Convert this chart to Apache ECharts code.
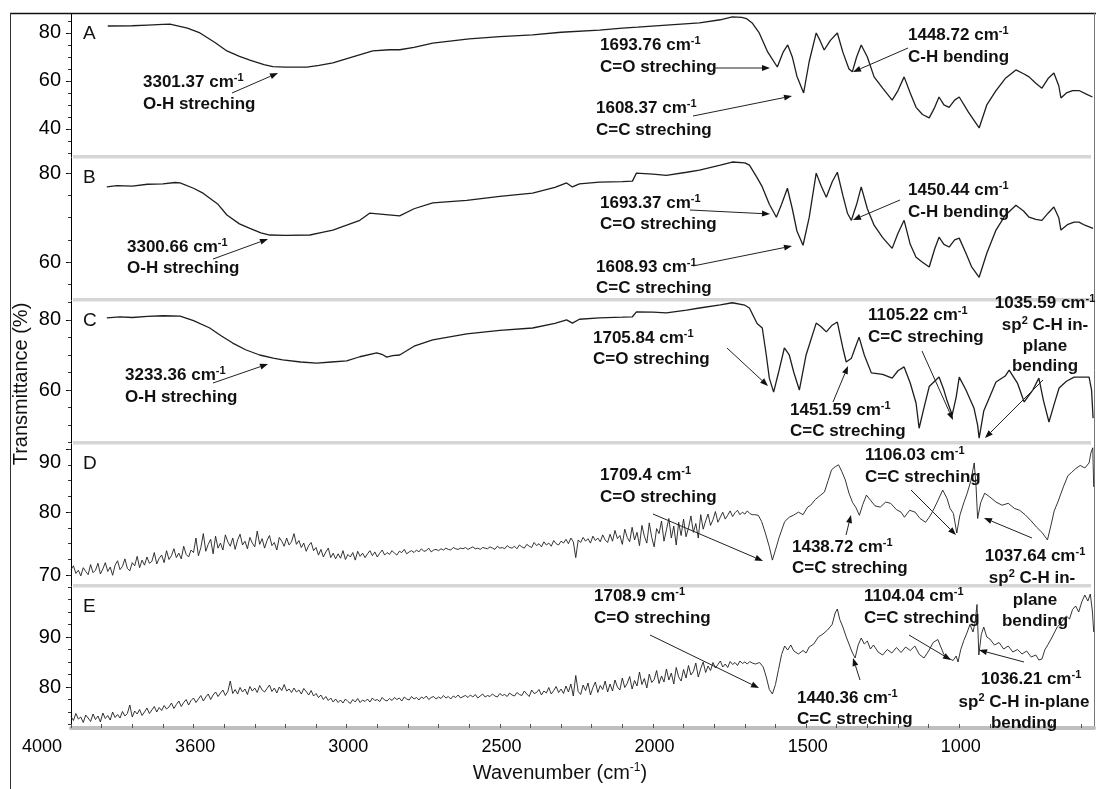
<!DOCTYPE html>
<html><head><meta charset="utf-8">
<script src="https://cdn.jsdelivr.net/npm/echarts@6/dist/echarts.min.js"></script>
<style>html,body{margin:0;padding:0;background:#fff}#c{width:1096px;height:789px}</style>
</head><body><div id="c"></div>
<script>
// ---------- data ----------
const panelLabels = ['A', 'B', 'C', 'D', 'E'];
const xTickValues = [4000, 3500, 3000, 2500, 2000, 1500, 1000];
const xTickLabels = ['4000', '3600', '3000', '2500', '2000', '1500', '1000'];
const yTicksA = [40, 60, 80];
const yTicksB = [60, 80];
const yTicksC = [60, 80];
const yTicksD = [70, 80, 90];
const yTicksE = [80, 90];

const specA = [[3880,82.9],[3800,83.0],[3750,83.3],[3700,83.6],[3677,83.7],[3620,82],[3579,80],[3530,76],[3491,72.5],[3450,70.2],[3416,68.7],[3370,66.8],[3341,66],[3301,65.8],[3230,65.8],[3190,66.5],[3145,67.5],[3080,70],[3015,72.5],[2960,73],[2927,73],[2880,74],[2819,75.8],[2700,77.5],[2600,78.5],[2493,79.2],[2400,80.3],[2275,81.2],[2200,82],[2150,82.4],[2056,83.3],[1948,84.2],[1880,85.5],[1841,86.7],[1810,86.5],[1795,86],[1775,84],[1753,80],[1725,72],[1694,65.8],[1675,72],[1660,75],[1645,70],[1630,62],[1608,55],[1590,68],[1567,80],[1555,77],[1541,72.9],[1520,77],[1498,80],[1480,72],[1460,65],[1449,63.8],[1435,70],[1420,75],[1400,70],[1378,61.7],[1350,57],[1319,52],[1300,56],[1280,61.7],[1260,55],[1241,49],[1220,46],[1198,44.6],[1180,49],[1166,53.3],[1150,50],[1133,49],[1115,52],[1100,53.3],[1070,47],[1035,40.4],[1010,50],[980,56],[950,61],[915,64.6],[890,63],[872,61.7],[850,59],[830,57],[810,61],[791,63.3],[775,58],[768,52.9],[750,55],[730,56],[709,56],[685,54.5],[665,53.3]];

const specB = [[3883,76.9],[3850,77.2],[3800,77.1],[3750,77.5],[3700,77.6],[3660,77.9],[3644,77.8],[3600,76.6],[3569,75.5],[3520,73],[3491,70.6],[3450,68.6],[3416,67.6],[3380,66.6],[3351,66.1],[3300,66.0],[3220,66.1],[3180,66.7],[3145,67.2],[3100,68.3],[3057,69.4],[3025,71],[2990,70.8],[2927,70.4],[2880,72],[2819,73.3],[2708,73.9],[2600,74.8],[2493,75.5],[2420,76.8],[2382,77.8],[2363,76.9],[2340,77.6],[2275,78],[2200,78.1],[2167,78.2],[2154,80],[2100,79.8],[2056,79.5],[1990,80.2],[1948,80.7],[1880,81.8],[1841,82.5],[1800,82.3],[1785,81.8],[1760,79],[1743,76.9],[1720,73],[1697,70.1],[1680,73],[1661,76.6],[1645,72],[1630,67],[1610,63.8],[1590,70],[1567,80],[1550,77],[1534,74.6],[1515,78],[1498,80.2],[1480,75],[1465,71],[1452,69.4],[1435,73],[1420,76.9],[1400,72],[1378,68.3],[1350,65.5],[1319,63.1],[1300,66.5],[1280,69.4],[1260,64],[1241,61.1],[1220,60],[1198,58.9],[1180,63],[1166,65.6],[1150,64],[1133,63.4],[1115,65],[1100,65.4],[1078,62],[1060,59],[1035,56.6],[1010,62],[980,67.2],[950,70.5],[915,72.8],[890,71.5],[872,70.1],[850,69.6],[830,69.4],[810,71],[791,72.4],[775,70],[768,67.2],[745,68.5],[725,69],[709,69],[690,68.3],[663,67.6]];

const specC = [[3883,80.6],[3840,80.9],[3800,80.7],[3750,81.0],[3700,81.2],[3644,81.1],[3600,79.8],[3547,77.7],[3510,75.5],[3472,73.4],[3430,71.5],[3384,70],[3340,69.1],[3309,68.6],[3250,68.0],[3198,67.7],[3150,68.0],[3100,68.3],[3057,69.5],[3002,70.6],[2985,70.2],[2969,69.4],[2950,69.8],[2927,70],[2880,72.5],[2819,74.3],[2708,76],[2600,77],[2493,77.7],[2420,79],[2382,80],[2363,79.1],[2340,80.2],[2275,80.6],[2200,80.8],[2167,80.9],[2154,82.3],[2100,82.2],[2056,82],[1990,82.8],[1948,83.4],[1880,84.3],[1841,84.9],[1800,84.2],[1785,83.4],[1760,79],[1743,77.7],[1730,70],[1720,63.4],[1706,59.4],[1690,65],[1671,72],[1655,70],[1640,65],[1622,60],[1600,70],[1567,79.1],[1550,78],[1534,76.6],[1515,78.5],[1498,79.4],[1480,72],[1469,68],[1452,69.1],[1440,72],[1427,75.1],[1410,70],[1387,64.9],[1350,64.5],[1319,63.4],[1300,65.5],[1280,66.6],[1260,62],[1241,56.3],[1231,49.1],[1215,55],[1198,61],[1166,63.7],[1150,60],[1140,57],[1123,52.9],[1110,58],[1100,63.7],[1078,60],[1052,54.9],[1040,50],[1035,46.3],[1020,54],[980,62.3],[950,64],[937,65.7],[910,62],[888,56.6],[860,60],[840,63.4],[825,57],[807,50.9],[790,56],[774,60.6],[750,62.5],[725,63.7],[700,63.7],[676,63.7],[668,60],[663,52]];

// noisy high-wavenumber parts of D and E: one reading every 8 cm-1 from 4000 down to 1776
const noiseStart = 4000, noiseStep = 8;
const noiseD = [
70.9,71.5,70.3,70.8,69.9,71.2,70.6,70.1,71.7,70.4,
70.8,71.9,70.2,71.0,72.0,70.6,71.3,70.0,71.6,72.3,
70.9,71.4,72.6,71.1,70.7,72.0,71.5,73.0,71.2,72.4,
71.6,72.9,71.9,72.2,73.6,71.8,72.7,73.2,72.0,73.9,
72.5,73.1,74.2,72.8,73.5,72.6,74.6,73.3,72.9,74.0,
73.6,75.9,73.1,74.4,76.6,73.8,74.9,75.7,73.4,76.2,
74.3,75.1,74.0,76.4,75.3,74.6,75.9,74.1,75.6,76.5,
74.8,75.4,74.2,76.0,75.1,74.5,77.0,74.9,75.8,74.3,
75.5,76.3,74.7,75.2,74.0,76.0,75.4,74.6,75.9,74.8,
75.3,76.6,74.9,75.5,74.4,75.1,73.8,74.7,75.2,73.9,
74.4,73.2,74.1,72.9,73.7,74.3,72.8,73.5,72.6,73.4,
72.7,73.9,72.5,73.3,72.9,73.6,72.4,73.8,73.0,73.5,
72.8,73.4,73.9,73.1,73.7,72.9,73.5,74.0,73.2,73.6,
73.3,73.9,73.5,73.2,73.8,73.6,74.1,73.4,73.7,73.9,
73.6,74.0,73.7,74.2,73.8,73.9,74.3,73.7,74.0,74.1,
73.9,74.2,74.0,74.3,74.1,74.0,74.4,74.2,74.1,74.3,
74.2,74.4,74.1,74.3,74.5,74.2,74.3,74.1,74.4,74.3,
74.2,74.5,74.3,74.1,74.6,74.3,74.4,74.2,74.7,74.4,
74.3,74.6,74.2,74.8,74.5,74.3,74.9,74.6,74.4,75.2,
74.7,75.0,74.5,75.3,74.8,75.1,74.6,75.5,75.0,74.8,
75.4,75.1,75.7,75.0,75.9,75.3,72.8,75.6,75.2,76.0,
75.4,75.8,75.1,76.2,75.5,75.9,75.3,76.4,75.6,75.2,
76.5,75.4,77.1,75.8,76.3,74.9,77.3,76.0,75.3,77.6,
75.6,76.8,74.7,77.9,76.2,75.1,78.3,76.0,74.5,77.4,
76.6,78.6,75.4,77.2,79.0,75.9,77.8,74.8,78.4,76.3,
78.9,76.1,77.5,79.4,76.8,78.2,75.9,79.6,77.3,78.6,
79.7,77.9,78.8,80.1,78.4,79.2,80.0,78.9,79.5,80.2,
79.3,79.9,80.3,79.6,80.0,79.7,80.2,79.8,79.6];
const noiseE = [
74.1,73.3,74.7,73.6,74.0,72.9,74.4,73.8,73.1,74.6,
73.5,74.2,73.0,74.8,73.7,74.3,73.4,75.0,73.9,74.5,
73.8,75.1,74.2,74.7,76.4,74.0,75.2,74.6,75.5,74.3,
75.0,75.8,74.7,75.4,76.1,75.0,75.9,75.3,76.3,75.6,
76.0,76.8,75.7,76.5,77.2,76.1,76.9,77.5,76.4,77.3,
77.8,76.9,77.6,78.3,77.2,78.0,78.6,77.5,78.4,79.0,
78.1,78.8,79.4,78.3,79.1,81.2,78.7,79.5,78.6,79.9,
79.0,79.6,78.5,80.1,79.2,79.8,78.9,80.3,79.4,79.0,
79.7,80.4,79.1,79.8,78.8,80.0,79.3,80.5,79.2,79.6,
78.9,79.8,79.0,79.4,78.6,79.7,79.1,78.4,79.3,78.2,
78.7,77.9,78.4,77.5,78.1,77.3,77.8,77.0,77.6,76.9,
77.4,76.8,77.6,77.1,76.7,77.5,77.0,77.7,76.9,77.4,
77.1,77.6,77.0,77.8,77.3,77.5,77.1,77.9,77.4,77.2,
77.7,77.3,77.9,77.5,77.8,77.2,78.0,77.6,77.4,78.1,
77.6,77.9,77.4,78.0,77.7,78.2,77.5,77.9,78.1,77.6,
78.0,77.7,78.3,77.8,78.1,77.6,78.2,77.9,78.4,77.8,
78.1,78.3,77.9,78.4,78.0,78.5,77.8,78.2,78.6,78.0,
78.3,78.1,78.6,78.2,78.0,78.7,78.3,78.5,78.1,78.8,
78.4,78.2,78.9,78.5,78.3,79.2,78.6,78.1,79.4,78.7,
78.9,79.5,78.4,79.2,78.8,79.9,78.6,79.3,80.1,78.9,
79.6,78.7,80.2,79.0,80.6,78.2,82.3,79.1,78.5,80.4,
79.3,80.8,78.4,79.9,81.0,78.9,80.3,79.5,81.2,79.0,
80.6,79.2,81.4,80.0,79.4,81.8,79.9,80.7,82.1,79.6,
81.3,80.2,83.0,80.5,81.7,79.8,82.6,80.9,81.5,83.3,
80.7,82.2,81.0,83.6,81.4,82.8,80.6,83.9,82.0,81.2,
83.5,81.8,84.3,82.4,83.1,84.8,82.0,83.7,85.0,82.9,
84.2,83.3,84.9,83.8,84.5,85.2,84.0,84.6,83.9,85.1,
84.5,84.9,84.3,85.2,84.7,85.0,84.6,85.1,84.8];

const tailD = [[1768,79.6],[1756,79.5],[1745,78.5],[1733,76.7],[1720,74.5],[1710,72.4],[1700,74.0],[1688,76.0],[1670,78.5],[1655,79.2],[1642,79.5],[1625,80.0],[1610,79.6],[1595,80.8],[1585,81.1],[1570,82.0],[1555,82.6],[1540,83.2],[1528,85.0],[1517,86.7],[1505,87.2],[1494,87.5],[1483,86.4],[1472,85.1],[1460,83.0],[1448,81.5],[1438,80.8],[1426,79.5],[1415,81.2],[1403,82.7],[1390,81.9],[1375,81.0],[1358,80.8],[1340,81.6],[1324,81.4],[1305,80.4],[1290,80.0],[1279,79.2],[1262,80.3],[1244,80.0],[1228,79.0],[1210,78.4],[1198,79.2],[1188,80.0],[1170,81.8],[1154,83.5],[1140,82.2],[1130,80.6],[1119,79.8],[1108,76.7],[1098,79.5],[1085,81.5],[1074,83.0],[1062,85.0],[1051,87.8],[1045,84.0],[1040,79.0],[1030,81.5],[1017,83.0],[1000,82.4],[980,81.6],[960,81.1],[940,81.4],[920,80.6],[903,80.3],[885,79.6],[865,78.6],[847,77.6],[830,76.8],[812,75.6],[800,78.0],[790,80.2],[778,81.6],[760,84.0],[745,85.8],[733,86.3],[720,86.9],[705,87.4],[690,87.0],[676,87.8],[670,89.4],[664,90.2],[661,84.0]];

const tailE = [[1765,84.6],[1752,84.9],[1740,84.0],[1730,82.0],[1720,79.5],[1710,78.6],[1700,80.5],[1690,83.5],[1680,86.5],[1670,88.2],[1660,87.4],[1650,88.4],[1640,87.2],[1625,86.6],[1610,87.3],[1600,86.8],[1590,88.0],[1575,88.6],[1560,90.0],[1545,90.6],[1530,91.4],[1515,92.5],[1505,94.8],[1498,95.6],[1490,93.5],[1480,92.0],[1470,90.2],[1460,88.6],[1450,87.0],[1440,85.8],[1430,88.4],[1420,89.8],[1410,88.6],[1400,89.2],[1390,87.6],[1380,88.4],[1365,87.0],[1350,86.4],[1335,87.5],[1320,86.8],[1305,87.9],[1290,86.9],[1275,88.0],[1260,87.3],[1245,88.2],[1230,86.5],[1215,85.8],[1200,87.2],[1185,88.9],[1170,89.5],[1160,88.0],[1150,86.5],[1140,86.0],[1130,85.6],[1120,85.3],[1110,86.2],[1104,85.0],[1095,87.5],[1085,89.3],[1075,90.8],[1065,92.5],[1055,91.0],[1048,93.0],[1042,96.5],[1036,86.4],[1028,90.5],[1020,92.0],[1010,90.0],[1000,89.6],[985,88.4],[970,88.9],[955,87.6],[940,88.2],[925,87.0],[910,87.5],[895,86.6],[880,87.2],[865,86.0],[850,86.4],[840,85.4],[830,85.6],[820,87.5],[810,88.5],[800,89.6],[790,90.8],[780,92.0],[770,92.6],[760,93.5],[750,94.2],[740,93.6],[730,95.5],[720,96.2],[710,95.0],[700,97.0],[690,98.4],[680,97.2],[672,98.6],[665,95.0],[661,91.0]];

const specD = noiseD.map((t, k) => [noiseStart - k * noiseStep, t]).concat(tailD);
const specE = noiseE.map((t, k) => [noiseStart - k * noiseStep, t]).concat(tailE);

// ---------- layout ----------
const FONT = '"Liberation Sans", Arial, sans-serif';
const X_MIN = 660, X_MAX = 4000;
const panels = [
  { data: specA, top: 14,  bottom: 157, min: 28.3, max: 87.9, major: yTicksA, minorStep: 5 },
  { data: specB, top: 158, bottom: 300, min: 51.5, max: 83.4, major: yTicksB, minorStep: 5 },
  { data: specC, top: 301, bottom: 443, min: 44.9, max: 85.4, major: yTicksC, minorStep: 5 },
  { data: specD, top: 444, bottom: 586, min: 68.3, max: 90.8, major: yTicksD, minorStep: 2.5, dropTop: true },
  { data: specE, top: 587, bottom: 728, min: 71.8, max: 100,  major: yTicksE, minorStep: 2.5 }
];

function minorTicks(min, max, step) {
  const out = [];
  for (let v = Math.ceil(min / step) * step; v <= max; v += step) out.push(+v.toFixed(3));
  return out;
}

const grids = [], xAxes = [], yAxes = [], series = [];
panels.forEach((p, i) => {
  grids.push({ left: 71, right: 2, top: p.top, height: p.bottom - p.top });
  const last = i === panels.length - 1;
  xAxes.push({
    gridIndex: i, type: 'value', inverse: true, min: X_MIN, max: X_MAX,
    show: last,
    axisLine: { show: last, onZero: false, lineStyle: { color: '#bfbfbf', width: 4 } },
    axisTick: { show: last, customValues: minorTicks(X_MIN, X_MAX, 100), length: 4, inside: true, lineStyle: { color: '#555', width: 1 } },
    axisLabel: {
      show: last, customValues: xTickValues, margin: 10, color: '#000', fontSize: 18, fontFamily: FONT,
      padding: [0, 58, 0, 0],
      formatter: v => xTickLabels[xTickValues.indexOf(v)] || ''
    },
    splitLine: { show: false }
  });
  const topVal = p.major[p.major.length - 1];
  yAxes.push({
    gridIndex: i, type: 'value', position: 'left', min: p.min, max: p.max,
    axisLine: { show: true, lineStyle: { color: '#000', width: 1 } },
    axisTick: { show: true, customValues: p.major, length: 5, lineStyle: { color: '#000' } },
    axisLabel: {
      customValues: p.major, margin: 10, color: '#000', fontSize: 20, fontFamily: FONT,
      formatter: v => (p.dropTop && v === topVal) ? '{lo|' + v + '}' : String(v),
      rich: { lo: { fontSize: 20, fontFamily: FONT, color: '#000', padding: [26, 0, 0, 0] } }
    },
    splitLine: { show: false }
  });
  yAxes.push({
    gridIndex: i, type: 'value', position: 'left', min: p.min, max: p.max,
    axisLine: { show: false },
    axisTick: { show: true, customValues: minorTicks(p.min, p.max, p.minorStep), length: 3, lineStyle: { color: '#333' } },
    axisLabel: { show: false }, splitLine: { show: false }
  });
  series.push({
    type: 'line', xAxisIndex: i, yAxisIndex: 2 * i, data: p.data, showSymbol: false,
    lineStyle: { color: '#1e1e1e', width: i >= 3 ? 0.9 : 1.3 }, animation: false, clip: true
  });
});

// ---------- graphics ----------
const g = [];
g.push({ type: 'line', shape: { x1: 10, y1: 13.5, x2: 1096, y2: 13.5 }, style: { stroke: '#111', lineWidth: 1.5 } });
g.push({ type: 'line', shape: { x1: 10.5, y1: 13, x2: 10.5, y2: 789 }, style: { stroke: '#333', lineWidth: 1 } });
g.push({ type: 'line', shape: { x1: 1094.5, y1: 13, x2: 1094.5, y2: 728 }, style: { stroke: '#777', lineWidth: 1 } });
[157, 300, 443, 586].forEach(y => {
  g.push({ type: 'rect', shape: { x: 73, y: y - 2, width: 1018, height: 3.5 }, style: { fill: '#d6d6d6' }, z: 5 });
});
panels.forEach((p, i) => {
  g.push({ type: 'text', x: 83, y: p.top + 20, style: { text: panelLabels[i], font: '19px ' + FONT, fill: '#111', verticalAlign: 'middle' }, z: 10 });
});
const rich = { s: { fontSize: 11, fontWeight: 'bold', fontFamily: FONT, padding: [0, 0, 9, 0] } };
const richN = { s: { fontSize: 12, fontFamily: FONT, padding: [0, 0, 10, 0] } };
function txt(x, y, t, align) {
  return { type: 'text', x, y, z: 20, style: { text: t, rich, font: 'bold 17px ' + FONT, fill: '#111', align: align || 'left', verticalAlign: 'middle' } };
}
function arrow(x1, y1, x2, y2) {
  const a = Math.atan2(y2 - y1, x2 - x1), L = 8, W = 3;
  const bx = x2 - L * Math.cos(a), by = y2 - L * Math.sin(a);
  return [
    { type: 'line', z: 20, shape: { x1, y1, x2: bx, y2: by }, style: { stroke: '#222', lineWidth: 1 } },
    { type: 'polygon', z: 20, shape: { points: [[x2, y2], [bx + W * Math.sin(a), by - W * Math.cos(a)], [bx - W * Math.sin(a), by + W * Math.cos(a)]] }, style: { fill: '#111' } }
  ];
}
const CM = ' cm{s|-1}';
const texts = [
  [143, 82, '3301.37' + CM], [143, 104, 'O-H streching'],
  [600, 45, '1693.76' + CM], [600, 67, 'C=O streching'],
  [596, 108, '1608.37' + CM], [596, 130, 'C=C streching'],
  [908, 35, '1448.72' + CM], [908, 57, 'C-H bending'],
  [127, 247, '3300.66' + CM], [127, 268, 'O-H streching'],
  [600, 203, '1693.37' + CM], [600, 224, 'C=O streching'],
  [596, 267, '1608.93' + CM], [596, 288, 'C=C streching'],
  [908, 190, '1450.44' + CM], [908, 212, 'C-H bending'],
  [125, 375, '3233.36' + CM], [125, 397, 'O-H streching'],
  [593, 338, '1705.84' + CM], [593, 359, 'C=O streching'],
  [790, 410, '1451.59' + CM], [790, 431, 'C=C streching'],
  [868, 315, '1105.22' + CM], [868, 337, 'C=C streching'],
  [1045, 303, '1035.59' + CM, 'center'], [1045, 325, 'sp{s|2} C-H in-', 'center'], [1045, 346, 'plane', 'center'], [1045, 366, 'bending', 'center'],
  [600, 475, '1709.4' + CM], [600, 497, 'C=O streching'],
  [792, 547, '1438.72' + CM], [792, 568, 'C=C streching'],
  [865, 455, '1106.03' + CM], [865, 477, 'C=C streching'],
  [1035, 556, '1037.64' + CM, 'center'], [1032, 578, 'sp{s|2} C-H in-', 'center'], [1035, 600, 'plane', 'center'], [1035, 621, 'bending', 'center'],
  [594, 596, '1708.9' + CM], [594, 618, 'C=O streching'],
  [797, 698, '1440.36' + CM], [797, 719, 'C=C streching'],
  [864, 596, '1104.04' + CM], [864, 618, 'C=C streching'],
  [1031, 679, '1036.21' + CM, 'center'], [1024, 702, 'sp{s|2} C-H in-plane', 'center'], [1024, 723, 'bending', 'center']
];
texts.forEach(t => g.push(txt(t[0], t[1], t[2], t[3])));
const arrows = [
  [232, 93, 278, 73], [715, 68, 770, 68], [693, 116, 792, 96], [908, 48, 853, 72],
  [213, 259, 268, 239], [690, 210, 770, 214], [693, 266, 792, 246], [900, 200, 853, 220],
  [213, 383, 268, 364], [727, 348, 768, 386], [833, 402, 848, 366], [922, 351, 953, 420], [1043, 380, 985, 438],
  [653, 514, 763, 561], [846, 535, 851, 515], [911, 490, 956, 535], [1032, 538, 984, 518],
  [650, 635, 759, 688], [860, 680, 853, 658], [909, 635, 951, 660], [1024, 662, 979, 650]
];
arrows.forEach(a => arrow(a[0], a[1], a[2], a[3]).forEach(e => g.push(e)));
g.push({ type: 'text', x: 21, y: 384, rotation: Math.PI / 2, z: 20,
  style: { text: 'Transmittance (%)', font: '20px ' + FONT, fill: '#111', align: 'center', verticalAlign: 'middle' } });
g.push({ type: 'text', x: 560, y: 773, z: 20,
  style: { text: 'Wavenumber (cm{s|-1})', rich: richN, font: '20px ' + FONT, fill: '#111', align: 'center', verticalAlign: 'middle' } });

const chart = echarts.init(document.getElementById('c'), null, { renderer: 'canvas' });
chart.setOption({
  backgroundColor: '#fff', animation: false,
  grid: grids, xAxis: xAxes, yAxis: yAxes, series: series, graphic: g
});
</script></body></html>
